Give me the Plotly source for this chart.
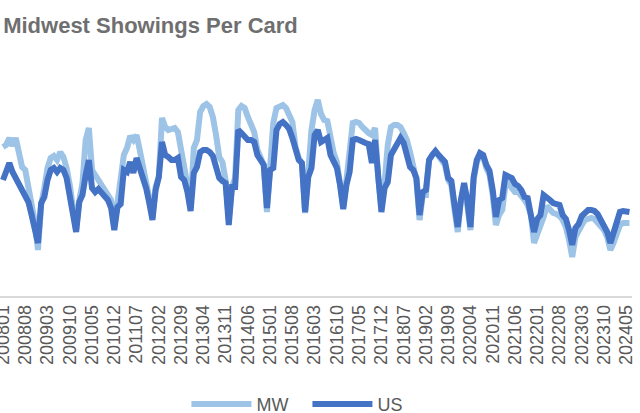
import plotly.graph_objects as go

# Monthly categories 200801 .. 202406
months = [f"{y}{m:02d}" for y in range(2008, 2025) for m in range(1, 13)][:198]

tick_labels = ["200801", "200808", "200903", "200910", "201005", "201012", "201107",
               "201202", "201209", "201304", "201311", "201406", "201501", "201508",
               "201603", "201610", "201705", "201712", "201807", "201902", "201909",
               "202004", "202011", "202106", "202201", "202208", "202303", "202310",
               "202405"]

mw = [
    15.3, 15.5, 16.2, 15.4, 16.2, 15.0, 13.3, 13.0, 11.3, 9.8, 7.8, 5.0,
    9.5, 11.2, 13.2, 14.2, 14.4, 14.0, 14.8, 14.3, 13.2, 11.5, 9.3, 7.0,
    10.0, 11.7, 16.0, 17.2, 13.0, 12.5, 12.2, 11.5, 11.0, 10.7, 10.0, 7.3,
    9.8, 11.5, 14.5, 15.2, 16.4, 16.0, 16.5, 15.0, 13.5, 12.2, 10.2, 8.3,
    11.3, 12.3, 18.2, 17.3, 17.0, 17.1, 17.2, 16.8, 15.0, 13.8, 11.5, 9.2,
    15.2, 16.0, 18.8, 19.4, 19.6, 19.3, 18.3, 16.5, 14.3, 13.8, 12.0, 8.0,
    11.3, 12.2, 19.0, 19.4, 19.2, 18.3, 17.7, 16.8, 15.0, 14.2, 13.5, 8.8,
    13.3, 17.7, 19.2, 19.4, 19.5, 19.2, 18.5, 17.8, 15.3, 14.2, 13.7, 8.7,
    12.7, 17.0, 19.0, 20.0, 18.6, 18.0, 17.9, 16.2, 14.7, 13.8, 11.8, 9.3,
    12.0, 15.0, 17.7, 17.8, 17.7, 17.3, 16.9, 16.7, 16.5, 17.2, 12.2, 9.2,
    11.7, 15.5, 17.3, 17.5, 17.5, 17.3, 16.7, 16.0, 14.8, 13.0, 12.0, 8.0,
    10.5, 10.5, 14.0, 14.5, 14.8, 14.4, 14.0, 13.5, 12.0, 11.5, 9.0, 6.8,
    10.0, 11.3, 9.5, 7.0, 12.0, 13.8, 14.5, 14.3, 13.2, 12.5, 10.5, 7.5,
    8.5, 9.0, 11.5, 11.7, 11.2, 10.8, 10.8, 10.5, 10.0, 9.5, 8.5, 5.7,
    6.5, 7.3, 8.3, 9.4, 9.0, 8.7, 8.6, 8.4, 8.0, 7.3, 6.0, 4.3,
    6.3, 7.0, 7.5, 8.0, 8.1, 8.2, 8.1, 7.8, 7.4, 7.0, 6.3, 5.0,
    5.7, 6.7, 7.5, 7.7, 7.7, 7.7,
]

us = [
    12.0, 13.0, 13.7, 12.8, 12.2, 11.7, 11.0, 10.7, 9.8, 8.5, 7.0, 5.7,
    9.7, 10.3, 12.0, 13.0, 13.2, 12.8, 13.2, 13.0, 12.2, 10.5, 8.5, 6.8,
    9.8, 10.5, 12.5, 14.0, 11.2, 10.8, 11.1, 10.7, 10.3, 10.0, 9.2, 7.0,
    9.3, 9.6, 13.0, 12.8, 13.8, 12.7, 14.2, 13.2, 12.0, 11.2, 9.7, 8.0,
    11.0, 12.3, 15.8, 14.5, 14.3, 14.0, 14.0, 14.2, 12.3, 12.0, 10.8, 8.9,
    12.7, 13.3, 14.8, 15.0, 15.0, 14.8, 14.4, 13.5, 12.2, 11.9, 11.7, 7.5,
    11.3, 11.3, 17.0, 16.7, 16.3, 16.0, 16.0, 15.8, 14.5, 14.0, 13.5, 9.2,
    13.0, 13.2, 17.0, 17.6, 17.8, 17.5, 17.1, 16.2, 15.0, 14.0, 13.7, 8.8,
    12.3, 13.2, 16.5, 17.0, 15.8, 16.0, 16.2, 14.5, 13.7, 13.2, 11.5, 9.1,
    11.5, 12.8, 16.0, 16.1, 16.0, 15.8, 15.7, 15.6, 13.7, 16.0, 11.7, 8.8,
    11.2, 11.8, 14.5, 15.0, 15.7, 16.2, 15.7, 14.5, 13.3, 13.0, 12.2, 8.5,
    10.8, 11.0, 14.0, 14.5, 14.9, 14.5, 14.2, 13.8, 12.2, 11.9, 9.5, 7.3,
    10.0, 11.7, 10.0, 7.3, 12.3, 14.0, 14.7, 14.5, 13.5, 12.9, 11.0, 8.3,
    10.0, 10.2, 12.5, 12.4, 12.2, 11.6, 11.4, 11.0, 10.3, 10.2, 8.5, 6.8,
    8.1, 8.5, 10.5, 10.3, 10.0, 9.7, 9.6, 9.5, 8.5, 8.1, 7.0, 5.5,
    7.2, 7.6, 8.4, 8.7, 9.0, 9.0, 8.9, 8.6, 8.0, 7.6, 6.8, 5.7,
    6.6, 7.8, 8.8, 8.9, 8.9, 8.8,
]

fig = go.Figure()
fig.add_trace(go.Scatter(x=months, y=mw, name="MW", mode="lines",
                         line=dict(color="#9DC3E6", width=6)))
fig.add_trace(go.Scatter(x=months, y=us, name="US", mode="lines",
                         line=dict(color="#4472C4", width=6)))

fig.update_layout(
    width=640, height=413,
    margin=dict(l=0, r=8, t=60, b=117, autoexpand=False),
    paper_bgcolor="white", plot_bgcolor="white",
    title=dict(text="<b>Midwest Showings Per Card</b>",
               font=dict(family="Liberation Sans, Arial", size=22, color="#6f6f6f"),
               x=0.005, xanchor="left", xref="paper",
               y=1 - 25 / 413, yanchor="middle", yref="container"),
    xaxis=dict(type="category", categoryorder="array", categoryarray=months,
               range=[-0.94, 197.8],
               tickmode="array", tickvals=tick_labels, ticktext=tick_labels,
               tickangle=-90, ticks="", showgrid=False,
               showline=True, linecolor="#d9d9d9", linewidth=1.5,
               tickfont=dict(family="Liberation Sans, Arial", size=18, color="#595959")),
    yaxis=dict(range=[0.4, 24.0], visible=False, showgrid=False, zeroline=False),
    showlegend=True,
    legend=dict(orientation="h", x=0.295, xanchor="left", y=-0.38, yanchor="top",
                font=dict(family="Liberation Sans, Arial", size=18, color="#595959"),
                itemwidth=60, entrywidth=46, entrywidthmode="pixels",
                traceorder="normal"),
)

fig.write_html("out.html",
               config={"displayModeBar": False},
               post_script="document.body.style.margin='0';document.body.style.overflow='hidden';")
